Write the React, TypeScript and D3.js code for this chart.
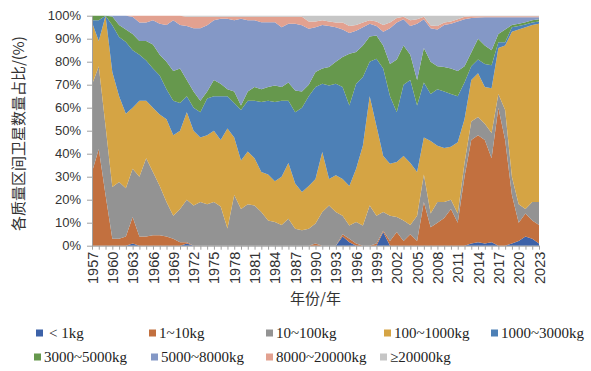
import { useEffect, useRef } from "react";
import * as d3 from "d3";

// years 1957..2023, one value per year (share in %)
const years = d3.range(1957, 2024);

const under1kg = [
  0, 0, 0, 0, 0, 0, 1, 0, 0, 0,
  0, 0, 0, 0, 1, 0, 0, 0, 0, 0,
  0, 0, 0, 0, 0, 0, 0, 0, 0, 0,
  0, 0, 0, 0, 0, 0, 0, 4, 1.5, 0,
  0, 0, 0, 6, 0, 0, 0, 0, 0, 0,
  0, 0, 0, 0, 0, 0, 1, 1.5, 1, 1.5,
  0, 0, 1, 2, 4, 3, 1,
];
const kg1to10 = [
  32, 42, 22, 3, 3, 4, 11.5, 4, 4, 4.5,
  4.5, 4, 3, 1.5, 0.5, 0, 0, 0, 0, 0,
  0, 0, 0, 0, 0, 0, 0, 0, 0, 0,
  0, 0, 0, 1, 0, 0, 0, 1, 1.5, 1,
  0, 0, 1, 0.5, 2, 6, 2, 5, 2, 19,
  8, 10, 12, 16, 10, 30, 45, 46.5, 45, 36.5,
  60, 46, 21, 8, 10, 8, 8,
];
const kg10to100 = [
  38, 36, 30, 22.5, 24.7, 21, 21, 26, 34, 27.5,
  21.5, 15, 10, 14.5, 18.5, 17.5, 19, 18, 19, 17,
  7.5, 22, 16, 18, 17.5, 14.6, 11, 10.3, 9, 11.7,
  7.4, 6.7, 7.4, 8.6, 14.6, 17.5, 14.6, 8, 5.8, 9.3,
  8.8, 17.5, 12, 8.1, 11, 6.5, 9, 4, 11, 12,
  6, 9, 7, 4, 4, 6, 8, 8, 7, 11,
  6, 13, 8, 8, 2, 8, 10,
];
const kg100to1000 = [
  27, 11, 48, 50, 37.3, 32.4, 26.5, 33, 25, 28,
  31, 36, 35, 34, 38, 32.5, 28, 30, 31, 29,
  43.5, 25, 21, 23, 20.5, 17.4, 20, 17.7, 21, 24.3,
  19.6, 16.6, 18.6, 19.4, 26.1, 11.5, 16, 16, 17.2, 23.2,
  34.8, 47.5, 39, 24.4, 22.6, 23.9, 28, 27, 19, 16,
  31.5, 24.5, 23.5, 23, 31, 19, 18, 19, 16, 19.5,
  20, 28, 63, 76, 79, 77, 77.5,
];
const kg1000to3000 = [
  1, 9, 0, 20.3, 25.7, 31.2, 25, 20, 17.5, 17,
  17, 13, 15, 12, 7, 10, 11, 16, 15, 19,
  14, 15, 22, 22, 25, 30.5, 32, 34.5, 33, 27,
  31, 36.7, 39, 40, 29.7, 40.7, 39.8, 40, 35, 36.9,
  29.7, 15, 29.3, 38, 29.4, 21.6, 31, 36, 29, 24,
  20.5, 24.5, 24.5, 23, 20, 16, 6, 6, 10, 10,
  2.5, 1.5, 2, 1.5, 1.2, 1, 1,
];
const kg3000to5000 = [
  2, 2, 0, 3.9, 5.3, 5.4, 7, 6, 8.5, 10.5,
  9, 12, 13, 15, 7, 7, 5, 3, 7, 5.4,
  3, 5, 2, 4, 6, 5.5, 6, 7.2, 6, 8,
  9.5, 7, 5, 6.5, 6.6, 8, 9.6, 13, 22.5, 13.8,
  13.7, 11, 10.1, 10, 14, 23, 17, 11, 11, 15,
  14, 10, 10.7, 11, 11, 7, 6, 9, 8, 6.5,
  3.5, 5.5, 1, 1, 1, 1, 1,
];
const kg5000to8000 = [
  0, 0, 0, 0.3, 4, 6, 7.5, 8, 8, 10.5,
  13.5, 16, 22, 19, 23.5, 27.5, 31.5, 28.8, 26, 28.3,
  30.7, 31, 37.7, 31, 29, 29.2, 28.2, 27.5, 26, 25.5,
  29, 28.8, 24.3, 19.5, 19, 17.8, 15, 12, 9, 9.3,
  8, 5.5, 4.1, 6, 15.5, 16, 11.5, 12.5, 24.5, 12.5,
  14.5, 16, 18.3, 19.5, 21.5, 20.5, 15, 9.2, 12.3, 14.3,
  7.3, 5.3, 3.3, 2.8, 2.1, 1.3, 0.8,
];
const kg8000to20000 = [
  0, 0, 0, 0, 0, 0, 0.5, 3, 3, 2,
  3.5, 4, 2, 4, 4, 5, 5, 3.7, 1.5, 0.8,
  0.8, 1.5, 0.8, 1.5, 1.5, 2.3, 2.3, 2.3, 4.5, 3,
  3, 3.7, 3.2, 2.5, 2, 2, 2, 3, 3, 2.5,
  2, 1.5, 2, 3, 2.5, 2, 1, 2.5, 2, 1,
  1.2, 1.5, 1, 1, 1, 1, 0.8, 0.6, 0.5, 0.5,
  0.5, 0.5, 0.5, 0.5, 0.5, 0.5, 0.5,
];
const over20000kg = [
  0, 0, 0, 0, 0, 0, 0, 0, 0, 0,
  0, 0, 0, 0, 0.5, 0.5, 0.5, 0.5, 0.5, 0.5,
  0.5, 0.5, 0.5, 0.5, 0.5, 0.5, 0.5, 0.5, 0.5, 0.5,
  0.5, 0.5, 2.5, 2.5, 2, 2.5, 3, 3, 4.5, 4,
  3, 2, 2.5, 4, 3, 1, 0.5, 2, 1.5, 0.5,
  4.3, 4.5, 3, 2.5, 1.5, 0.5, 0.2, 0.2, 0.2, 0.2,
  0.2, 0.2, 0.2, 0.2, 0.2, 0.2, 0.2,
];

const seriesNames = [
  "< 1kg", "1~10kg", "10~100kg", "100~1000kg", "1000~3000kg",
  "3000~5000kg", "5000~8000kg", "8000~20000kg", "≥20000kg",
];
const seriesValues = [
  under1kg, kg1to10, kg10to100, kg100to1000, kg1000to3000,
  kg3000to5000, kg5000to8000, kg8000to20000, over20000kg,
];
const colors = [
  "#3d62a8", "#c2703f", "#939393", "#d5a444", "#4d80b6",
  "#66984d", "#8498c6", "#e2a190", "#c6c6c6",
];

export default function App() {
  const svgRef = useRef<SVGSVGElement>(null);

  useEffect(() => {
    const svg = d3.select(svgRef.current);
    svg.selectAll("*").remove();

    const left = 92, right = 539, top = 15.7, bottom = 245.7;

    const table = years.map((yr, i) => {
      const row: any = { year: yr };
      seriesNames.forEach((n, j) => (row[n] = seriesValues[j][i]));
      return row;
    });

    const layers = d3.stack<any>().keys(seriesNames).offset(d3.stackOffsetExpand)(table);

    const x = d3.scaleLinear().domain([1957, 2023]).range([left, right]);
    const y = d3.scaleLinear().domain([0, 1]).range([bottom, top]);

    const area = d3
      .area<any>()
      .x((d) => x(d.data.year))
      .y0((d) => y(d[0]))
      .y1((d) => y(d[1]));

    svg
      .append("g")
      .selectAll("path")
      .data(layers)
      .enter()
      .append("path")
      .attr("d", area)
      .attr("fill", (d, i) => colors[i]);

    // y axis
    const yAxis = svg
      .append("g")
      .attr("transform", `translate(${left},0)`)
      .call(
        d3
          .axisLeft(y)
          .tickValues(d3.range(0, 11).map((v) => v / 10))
          .tickFormat((d: any) => `${Math.round(d * 100)}%`)
          .tickSize(5)
          .tickSizeOuter(0)
      );
    yAxis.select(".domain").attr("stroke", "#a0a0a0");
    yAxis.selectAll(".tick line").attr("stroke", "#a0a0a0");
    yAxis
      .selectAll(".tick text")
      .attr("x", -11)
      .style("font-family", "Liberation Sans, Arial, sans-serif")
      .style("font-size", "13px")
      .attr("fill", "#333");

    // x axis
    const xAxis = svg
      .append("g")
      .attr("transform", `translate(0,${bottom})`)
      .call(
        d3
          .axisBottom(x)
          .tickValues(years)
          .tickFormat((d: any) => ((d - 1957) % 3 === 0 ? String(d) : ""))
          .tickSize(4)
          .tickSizeOuter(0)
      );
    xAxis.select(".domain").attr("stroke", "#a0a0a0");
    xAxis.selectAll(".tick line").attr("stroke", "#a0a0a0");
    xAxis
      .selectAll(".tick text")
      .attr("transform", "rotate(-90)")
      .attr("x", -6)
      .attr("y", 0)
      .attr("dy", "0.35em")
      .style("text-anchor", "end")
      .style("font-family", "Liberation Sans, Arial, sans-serif")
      .style("font-size", "14.5px")
      .attr("fill", "#333");

    // titles
    svg
      .append("text")
      .attr("transform", `translate(20,${(top + bottom) / 2 + 3}) rotate(-90)`)
      .attr("text-anchor", "middle")
      .attr("dominant-baseline", "middle")
      .style("font-family", "Noto Sans CJK SC, sans-serif")
      .style("font-size", "15px")
      .attr("fill", "#333")
      .text("各质量区间卫星数量占比/(%)");

    svg
      .append("text")
      .attr("x", (left + right) / 2)
      .attr("y", 304)
      .attr("text-anchor", "middle")
      .style("font-family", "Noto Sans CJK SC, sans-serif")
      .style("font-size", "15px")
      .attr("fill", "#333")
      .text("年份/年");

    // legend
    const legendPos = [
      [36, 333], [149, 333], [266, 333], [384, 333], [491, 333],
      [34, 357], [151, 357], [266, 357], [380, 357],
    ];
    const legend = svg
      .append("g")
      .selectAll("g")
      .data(seriesNames)
      .enter()
      .append("g")
      .attr("transform", (d, i) => `translate(${legendPos[i][0]},${legendPos[i][1]})`);
    legend
      .append("rect")
      .attr("x", 0)
      .attr("y", -3.5)
      .attr("width", 7)
      .attr("height", 7)
      .attr("fill", (d, i) => colors[i]);
    legend
      .append("text")
      .attr("x", (d, i) => (i === 0 ? 13 : 10))
      .attr("y", 0)
      .attr("dy", "0.35em")
      .style("font-family", "Liberation Serif, Times New Roman, serif")
      .style("font-size", "15px")
      .attr("fill", "#222")
      .text((d) => d);
  }, []);

  return (
    <svg
      ref={svgRef}
      width={591}
      height={371}
      style={{ position: "absolute", left: 0, top: 0, background: "#fff" }}
    />
  );
}
